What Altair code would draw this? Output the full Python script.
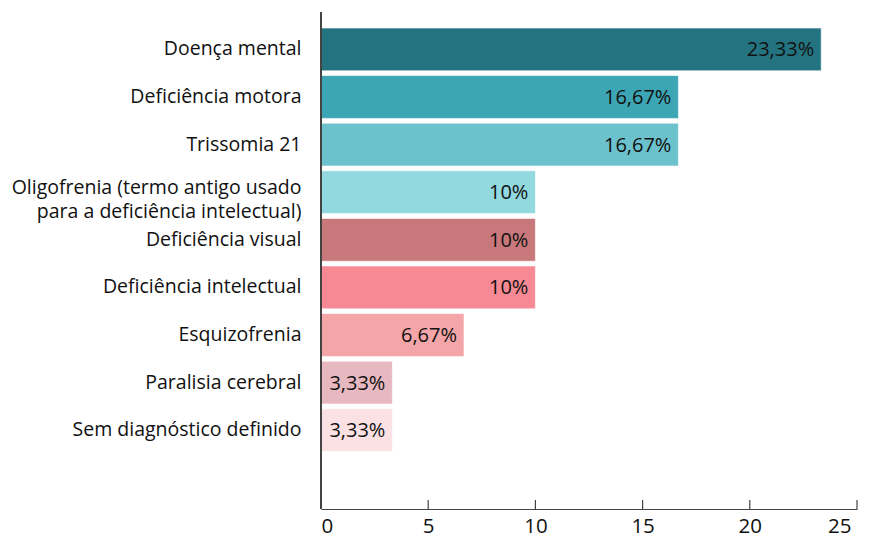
import altair as alt
import pandas as pd

categories = [
    "Doença mental",
    "Deficiência motora",
    "Trissomia 21",
    "Oligofrenia (termo antigo usado\npara a deficiência intelectual)",
    "Deficiência visual",
    "Deficiência intelectual",
    "Esquizofrenia",
    "Paralisia cerebral",
    "Sem diagnóstico definido",
]
values = [23.33, 16.67, 16.67, 10, 10, 10, 6.67, 3.33, 3.33]
value_labels = ["23,33%", "16,67%", "16,67%", "10%", "10%", "10%", "6,67%", "3,33%", "3,33%"]
colors = ["#237480", "#3ca6b4", "#6bc2cc", "#92d8df", "#c8787b", "#f68993", "#f3a5a8", "#e8b8c0", "#fbe1e4"]
x_ticks = [0, 5, 10, 15, 20, 25]

FONT = "Open Sans"
W, H = 536, 497

df = pd.DataFrame({"cat": categories, "value": values, "label": value_labels})
ticks_df = pd.DataFrame({"t": x_ticks})

y_enc = alt.Y(
    "cat:N",
    sort=categories,
    scale=alt.Scale(range=[16, 439.6], paddingInner=0.1, paddingOuter=0),
    axis=alt.Axis(
        title=None, domain=False, ticks=False, labelPadding=20,
        labelFontSize=19.5, labelFont=FONT, labelColor="#111",
        labelExpr="split(datum.label, '\\n')", labelLineHeight=24,
        labelLimit=400,
        labelOffset={"condition": {"test": "indexof(datum.value, 'Oligofrenia') == 0", "value": -4}, "value": 0},
    ),
)
x_scale = alt.Scale(domain=[0, 25], nice=False)

bars = alt.Chart(df).mark_bar(stroke="#ffffff", strokeWidth=1, strokeOpacity=0.6).encode(
    x=alt.X("value:Q", scale=x_scale, axis=alt.Axis(
        title=None, values=x_ticks, ticks=False, grid=False,
        labelFontSize=20.5, labelFont=FONT, labelColor="#111", labelPadding=7,
        labelOffset={"condition": {"test": "datum.value == 25", "value": -6}, "value": 0},
        domainColor="#444", domainWidth=1.2,
    )),
    y=y_enc,
    color=alt.Color("cat:N", scale=alt.Scale(domain=categories, range=colors), legend=None),
)

text = alt.Chart(df).mark_text(align="right", baseline="middle", dx=-7, dy=1, fontSize=20, font=FONT, color="#111").encode(
    x=alt.X("value:Q", scale=x_scale),
    y=alt.Y("cat:N", sort=categories),
    text="label:N",
)

tick_rules = alt.Chart(ticks_df).mark_rule(color="#444", strokeWidth=1.2).encode(
    x=alt.X("t:Q", scale=x_scale),
    y=alt.value(H - 9),
    y2=alt.value(H),
)

y_line = alt.Chart(ticks_df).mark_rule(color="#444", strokeWidth=1.2).encode(
    x=alt.value(0),
    y=alt.value(0),
    y2=alt.value(H),
)

chart = alt.layer(bars, text, tick_rules, y_line).properties(
    width=W, height=H,
    autosize=alt.AutoSizeParams(type="none"),
    padding={"left": 313, "top": 4, "right": 7, "bottom": 29},
).configure_view(stroke=None)

chart.save("out.html", embed_options={"renderer": "svg", "actions": False})
